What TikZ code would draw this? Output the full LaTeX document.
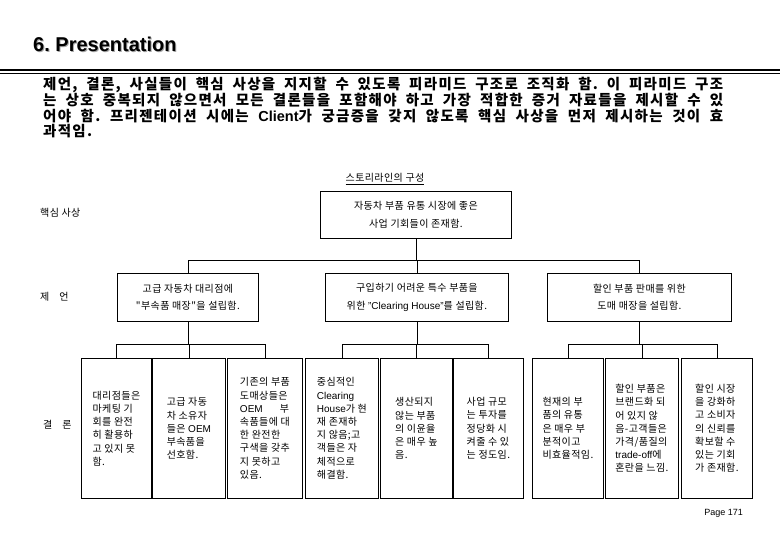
\documentclass[tikz,border=0pt]{standalone}
\usepackage{fontspec}
\setmainfont{Liberation Sans}
\newfontfamily\krls[LetterSpace=4]{Noto Sans CJK KR}
\newfontfamily\krpara[LetterSpace=9]{Noto Sans CJK KR}
\newcommand\lat[1]{{\rmfamily #1}}
\frenchspacing
\begin{document}
\begin{tikzpicture}[x=1pt,y=-1pt,
  box/.style={draw, line width=0.8pt, inner sep=0pt, anchor=north west, align=center,
    font=\krls\fontsize{10}{17.5}\selectfont},
  sbox/.style={draw, line width=0.8pt, inner sep=0pt, anchor=north west, align=left,
    minimum height=140pt, font=\krls\fontsize{10}{13.2}\selectfont},
  lbl/.style={anchor=west, inner sep=0pt, font=\krls\fontsize{10}{12}\selectfont},
  para/.style={anchor=west, inner sep=0pt, font=\krpara\bfseries\fontsize{14.5}{15}\selectfont},
  conn/.style={draw, line width=0.8pt}]
\useasboundingbox (0,0) rectangle (780,540);

% heading
\node[anchor=west, inner sep=0pt, text=black!35, font=\bfseries\fontsize{20}{24}\selectfont] at (34,45) {6. Presentation};
\node[anchor=west, inner sep=0pt, font=\bfseries\fontsize{20}{24}\selectfont] (head) at (33,44) {6. Presentation};
\draw[line width=2.5pt] (0,70) -- (780,70);
\draw[line width=1.2pt] (0,73.8) -- (780,73.8);

% paragraph
\node[para] (p1) at (43,85) {\makebox[680pt][s]{제언, 결론, 사실들이 핵심 사상을 지지할 수 있도록 피라미드 구조로 조직화 함. 이 피라미드 구조}};
\node[para] (p2) at (43,100.5) {\makebox[680pt][s]{는 상호 중복되지 않으면서 모든 결론들을 포함해야 하고 가장 적합한 증거 자료들을 제시할 수 있}};
\node[para] (p3) at (43,116) {\makebox[680pt][s]{어야 함. 프리젠테이션 시에는 \lat{Client}가 궁금증을 갖지 않도록 핵심 사상을 먼저 제시하는 것이 효}};
\node[para] (p4) at (43,131.5) {과적임.};

% storyline title
\node[inner sep=0pt, font=\krls\fontsize{10}{12}\selectfont] (st) at (385,179) {\underline{스토리라인의 구성}};

% left labels
\node[lbl] (l1) at (40,213) {핵심 사상};
\node[lbl] (l2) at (40,297) {제\hspace{10pt}언};
\node[lbl] (l3) at (43,425) {결\hspace{10pt}론};

% top box
\node[box, minimum width=191pt, minimum height=47pt] (top) at (320,191) {자동차 부품 유통 시장에 좋은\\사업 기회들이 존재함.};

% middle boxes
\node[box, minimum width=141pt, minimum height=48pt] (mA) at (117,273) {고급 자동차 대리점에\\"부속품 매장"을 설립함.};
\node[box, minimum width=183pt, minimum height=48pt] (mB) at (325,273) {구입하기 어려운 특수 부품을\\위한 \lat{"Clearing House"}를 설립함.};
\node[box, minimum width=184pt, minimum height=48pt] (mC) at (547,273) {할인 부품 판매를 위한\\도매 매장을 설립함.};

% bottom boxes
\node[sbox, minimum width=70pt] (b1) at (81,358) {대리점들은\\마케팅 기\\회를 완전\\히 활용하\\고 있지 못\\함.};
\node[sbox, minimum width=73pt] (b2) at (152,358) {고급 자동\\차 소유자\\들은 \lat{OEM}\\부속품을\\선호함.};
\node[sbox, minimum width=75pt] (b3) at (227,358) {기존의 부품\\도매상들은\\\lat{OEM}\hspace{17pt}부\\속품들에 대\\한 완전한\\구색을 갖추\\지 못하고\\있음.};
\node[sbox, minimum width=73pt] (b4) at (305,358) {중심적인\\\lat{Clearing}\\\lat{House}가 현\\재 존재하\\지 않음;고\\객들은 자\\체적으로\\해결함.};
\node[sbox, minimum width=72pt] (b5) at (380,358) {생산되지\\않는 부품\\의 이윤율\\은 매우 높\\음.};
\node[sbox, minimum width=70pt] (b6) at (453,358) {사업 규모\\는 투자를\\정당화 시\\켜줄 수 있\\는 정도임.};
\node[sbox, minimum width=71pt] (b7) at (532,358) {현재의 부\\품의 유통\\은 매우 부\\분적이고\\비효율적임.};
\node[sbox, minimum width=73pt] (b8) at (605,358) {할인 부품은\\브랜드화 되\\어 있지 않\\음-고객들은\\가격/품질의\\\lat{trade-off}에\\혼란을 느낌.};
\node[sbox, minimum width=71pt] (b9) at (681,358) {할인 시장\\을 강화하\\고 소비자\\의 신뢰를\\확보할 수\\있는 기회\\가 존재함.};

% connectors top -> middle
\foreach \m in {mA,mB,mC}
  \draw[conn] (top.south) |- ([yshift=13pt]\m.north) -- (\m.north);
% middle -> bottom
\foreach \b in {b1,b2,b3}
  \draw[conn] (mA.south) |- ([yshift=14pt]\b.north) -- (\b.north);
\foreach \b in {b4,b5,b6}
  \draw[conn] (mB.south) |- ([yshift=14pt]\b.north) -- (\b.north);
\foreach \b in {b7,b8,b9}
  \draw[conn] (mC.south) |- ([yshift=14pt]\b.north) -- (\b.north);

% page number
\node[anchor=east, inner sep=0pt, font=\fontsize{9}{11}\selectfont] (pg) at (743,513) {Page 171};
\end{tikzpicture}
\end{document}
